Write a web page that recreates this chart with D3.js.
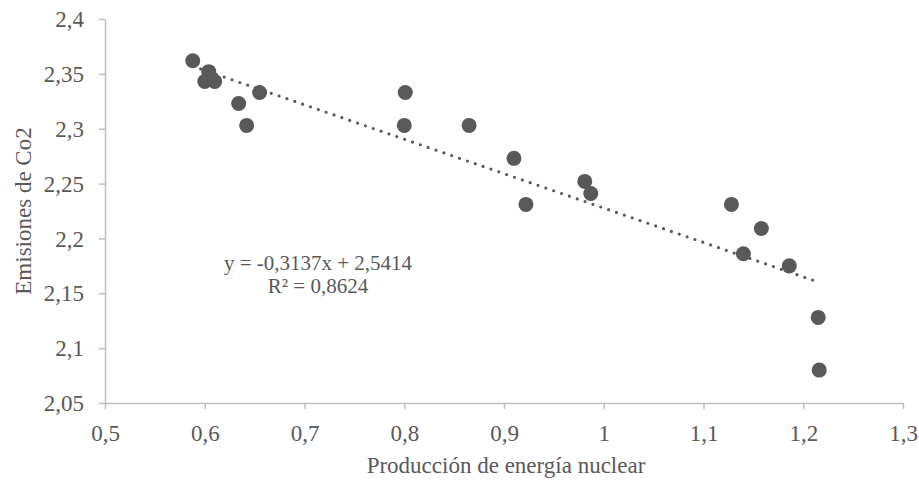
<!DOCTYPE html>
<html lang="es">
<head>
  <meta charset="UTF-8">
  <title>Emisiones de Co2 vs Producción de energía nuclear</title>
  <script src="https://d3js.org/d3.v7.min.js"></script>
  <style>
    body { margin: 0; background: #fff; }
    text { font-family: "Liberation Serif", "Times New Roman", serif; fill: #595959; }
  </style>
</head>
<body>
<div id="chart"></div>
<script>
// Data
const nuclear = [0.588, 0.604, 0.600, 0.610, 0.634, 0.642, 0.655, 0.801, 0.800, 0.865,
                 0.910, 0.922, 0.981, 0.987, 1.128, 1.158, 1.140, 1.186, 1.215, 1.216];
const co2     = [2.362, 2.352, 2.343, 2.343, 2.323, 2.303, 2.333, 2.333, 2.303, 2.303,
                 2.273, 2.231, 2.252, 2.241, 2.231, 2.209, 2.186, 2.175, 2.128, 2.080];
const xTicks = [0.5, 0.6, 0.7, 0.8, 0.9, 1, 1.1, 1.2, 1.3];
const yTicks = [2.05, 2.1, 2.15, 2.2, 2.25, 2.3, 2.35, 2.4];
const trend = { slope: -0.3137, intercept: 2.5414, r2: 0.8624 };

const width = 919, height = 482;
const margin = { top: 19, right: 16, bottom: 79, left: 105 };

const locale = d3.formatLocale({ decimal: ",", thousands: ".", grouping: [3], currency: ["", "€"], minus: "-" });
const fmt = locale.format("~g");

const svg = d3.select("#chart").append("svg")
  .attr("width", width)
  .attr("height", height);

const x = d3.scaleLinear().domain([0.5, 1.3]).range([margin.left, width - margin.right]);
const y = d3.scaleLinear().domain([2.05, 2.4]).range([height - margin.bottom, margin.top]);

// axes
const xAxis = svg.append("g")
  .attr("transform", `translate(0,${height - margin.bottom})`)
  .call(d3.axisBottom(x).tickValues(xTicks).tickSize(6).tickSizeOuter(0).tickFormat(fmt));

const yAxis = svg.append("g")
  .attr("transform", `translate(${margin.left},0)`)
  .call(d3.axisLeft(y).tickValues(yTicks).tickSize(6).tickSizeOuter(0).tickFormat(fmt));

[xAxis, yAxis].forEach(g => {
  g.select(".domain").attr("stroke", "#bfbfbf").attr("stroke-width", 1.5);
  g.selectAll(".tick line").attr("stroke", "#bfbfbf").attr("stroke-width", 1.5);
  g.selectAll(".tick text").attr("fill", "#595959")
    .style("font-family", "'Liberation Serif', serif").style("font-size", "23px");
});
xAxis.selectAll(".tick text").attr("y", 38).attr("dy", 0);
yAxis.selectAll(".tick text").attr("x", -21).attr("dy", "0.33em");

// trendline (dotted, over the data range)
const xMin = d3.min(nuclear), xMax = d3.max(nuclear);
svg.append("line")
  .attr("x1", x(xMin)).attr("y1", y(trend.slope * xMin + trend.intercept))
  .attr("x2", x(xMax)).attr("y2", y(trend.slope * xMax + trend.intercept))
  .attr("stroke", "#595959")
  .attr("stroke-width", 3.2)
  .attr("stroke-linecap", "round")
  .attr("stroke-dasharray", "0,8.3");

// points
const points = nuclear.map((v, i) => ({ x: v, y: co2[i] }));
svg.selectAll("circle")
  .data(points)
  .enter()
  .append("circle")
  .attr("cx", d => x(d.x))
  .attr("cy", d => y(d.y))
  .attr("r", 7.5)
  .attr("fill", "#595959");

// equation label
const eq = svg.append("text")
  .attr("text-anchor", "middle")
  .style("font-size", "21px");
eq.append("tspan").attr("x", 318).attr("y", 270)
  .text(`y = ${fmt(trend.slope)}x + ${fmt(trend.intercept)}`);
eq.append("tspan").attr("x", 318).attr("y", 293)
  .text(`R² = ${fmt(trend.r2)}`);

// axis titles
svg.append("text")
  .attr("x", 506)
  .attr("y", 473)
  .attr("text-anchor", "middle")
  .style("font-size", "23px")
  .text("Producción de energía nuclear");

svg.append("text")
  .attr("transform", `translate(31,${(margin.top + height - margin.bottom) / 2}) rotate(-90)`)
  .attr("text-anchor", "middle")
  .style("font-size", "23px")
  .text("Emisiones de Co2");
</script>
</body>
</html>
